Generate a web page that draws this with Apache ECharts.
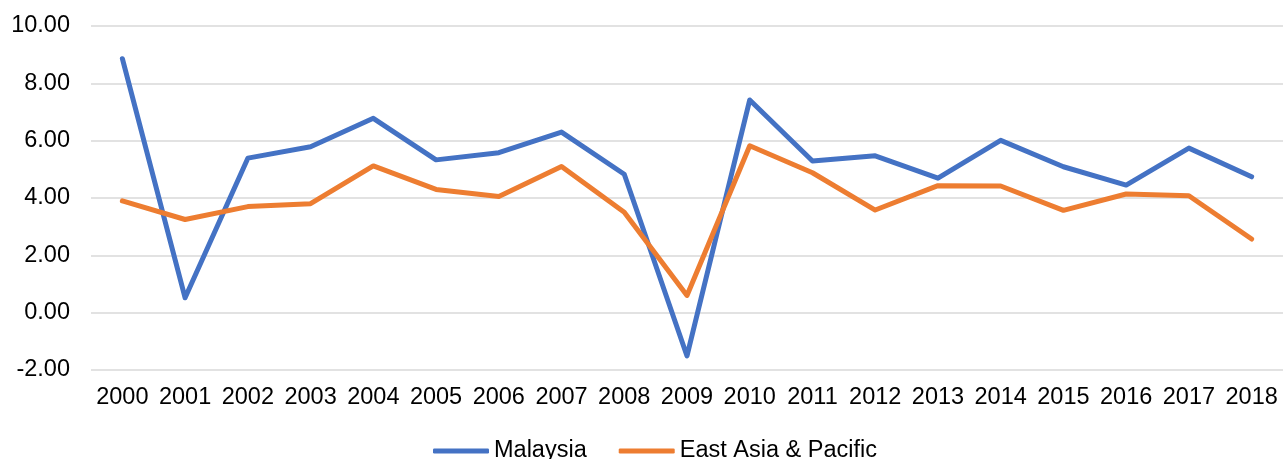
<!DOCTYPE html>
<html>
<head>
<meta charset="utf-8">
<script src="https://cdn.jsdelivr.net/npm/echarts@6/dist/echarts.min.js"></script>
<style>
  html, body { margin: 0; padding: 0; background: #fff; }
  #chart { width: 1283px; height: 459px; }
</style>
</head>
<body>
<div id="chart"></div>
<script>
// GDP growth (annual %), 2000-2018
const years = ['2000','2001','2002','2003','2004','2005','2006','2007','2008','2009',
               '2010','2011','2012','2013','2014','2015','2016','2017','2018'];
const malaysia = [8.86, 0.52, 5.39, 5.79, 6.78, 5.33, 5.58, 6.30, 4.83, -1.51,
                  7.42, 5.29, 5.47, 4.69, 6.01, 5.09, 4.45, 5.74, 4.74];
const eastAsiaPacific = [3.90, 3.25, 3.70, 3.80, 5.12, 4.30, 4.05, 5.10, 3.50, 0.60,
                         5.82, 4.88, 3.58, 4.43, 4.42, 3.57, 4.14, 4.08, 2.57];

const chart = echarts.init(document.getElementById('chart'));
const font = 'Liberation Sans, Arial, sans-serif';

chart.setOption({
  animation: false,
  backgroundColor: '#ffffff',
  grid: { left: 91, right: 0, top: 26, bottom: 89 },
  legend: {
    bottom: -9,
    left: 428,
    itemWidth: 56,
    itemHeight: 5,
    itemGap: 32,
    icon: 'roundRect',
    textStyle: { fontFamily: font, fontSize: 23.5, color: '#000' },
    data: ['Malaysia', 'East Asia & Pacific']
  },
  xAxis: {
    type: 'category',
    data: years,
    boundaryGap: true,
    axisLine: { show: false },
    axisTick: { show: false },
    axisLabel: { fontFamily: font, fontSize: 23.5, color: '#000', margin: 16, interval: 0 }
  },
  yAxis: {
    type: 'value',
    min: -2,
    max: 10,
    interval: 2,
    axisLine: { show: false },
    axisTick: { show: false },
    axisLabel: {
      fontFamily: font, fontSize: 23.5, color: '#000', margin: 21,
      formatter: v => v.toFixed(2)
    },
    splitLine: { lineStyle: { color: '#d9d9d9', width: 1.5 } }
  },
  series: [
    {
      name: 'Malaysia',
      type: 'line',
      data: malaysia,
      symbol: 'none',
      color: '#4472C4',
      lineStyle: { width: 5, color: '#4472C4', cap: 'round', join: 'round' }
    },
    {
      name: 'East Asia & Pacific',
      type: 'line',
      data: eastAsiaPacific,
      symbol: 'none',
      color: '#ED7D31',
      lineStyle: { width: 5, color: '#ED7D31', cap: 'round', join: 'round' }
    }
  ]
});
</script>
</body>
</html>
